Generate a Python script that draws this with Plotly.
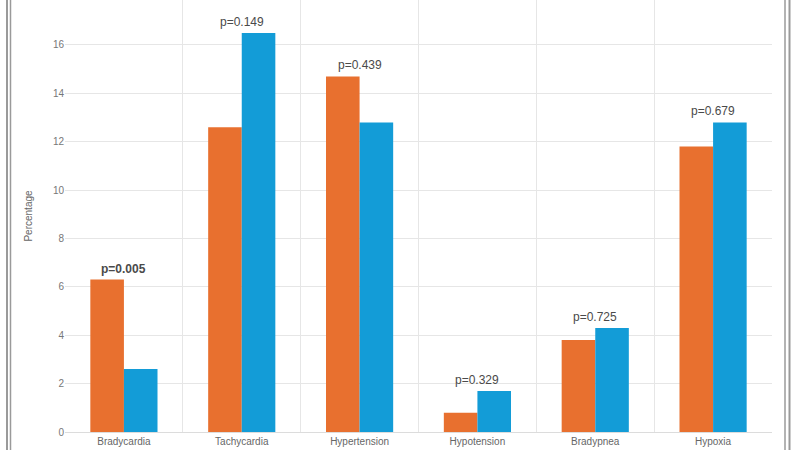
import plotly.graph_objects as go

categories = ["Bradycardia", "Tachycardia", "Hypertension", "Hypotension", "Bradypnea", "Hypoxia"]
group_a = [6.3, 12.6, 14.7, 0.8, 3.8, 11.8]
group_b = [2.6, 16.5, 12.8, 1.7, 4.3, 12.8]
p_labels = ["<b>p=0.005</b>", "p=0.149", "p=0.439", "p=0.329", "p=0.725", "p=0.679"]

W, H = 800, 450
ml, mr, mt, mb = 65, 28, 0, 18

fig = go.Figure()
fig.add_trace(go.Bar(x=categories, y=group_a, marker_color="#E8702F", marker_line_width=0))
fig.add_trace(go.Bar(x=categories, y=group_b, marker_color="#139CD7", marker_line_width=0))

for cat, a, b, txt in zip(categories, group_a, group_b, p_labels):
    fig.add_annotation(x=cat, y=max(a, b), text=txt, showarrow=False,
                       yanchor="bottom", yshift=2,
                       font=dict(size=12, color="#4a4a4a"))

# picture frame lines at left/right edges
pw = W - ml - mr
ph = H - mt - mb
def px_x(p):
    return (p - ml) / pw
y0 = -mb / ph
y1 = 1 + mt / ph
for xp, w in [(7, 2), (10.5, 1.5), (785, 1.5), (789.5, 2)]:
    fig.add_shape(type="line", xref="paper", yref="paper",
                  x0=px_x(xp), x1=px_x(xp), y0=y0, y1=y1,
                  line=dict(color="#9a9a9a", width=w))

fig.update_layout(
    width=W, height=H,
    margin=dict(l=ml, r=mr, t=mt, b=mb),
    barmode="group", bargap=0.43, bargroupgap=0,
    showlegend=False,
    plot_bgcolor="white", paper_bgcolor="white",
    font=dict(family="Liberation Sans, Arial, sans-serif", color="#666"),
)
fig.update_xaxes(tickson="boundaries", showgrid=True, gridcolor="#e6e6e6",
                 ticks="", tickfont=dict(size=10, color="#666"),
                 showline=True, linecolor="#dcdcdc", mirror=True)
fig.update_yaxes(range=[0, 17.86], dtick=2, showgrid=True, gridcolor="#e6e6e6",
                 zeroline=False, tickfont=dict(size=10, color="#777"),
                 title=dict(text="Percentage", font=dict(size=10, color="#666"), standoff=18))

# page body has a default 8px margin; drop it so the figure sits at the window corner
fig.write_html("out.html", config={"displayModeBar": False},
               post_script="document.body.style.margin='0';")
